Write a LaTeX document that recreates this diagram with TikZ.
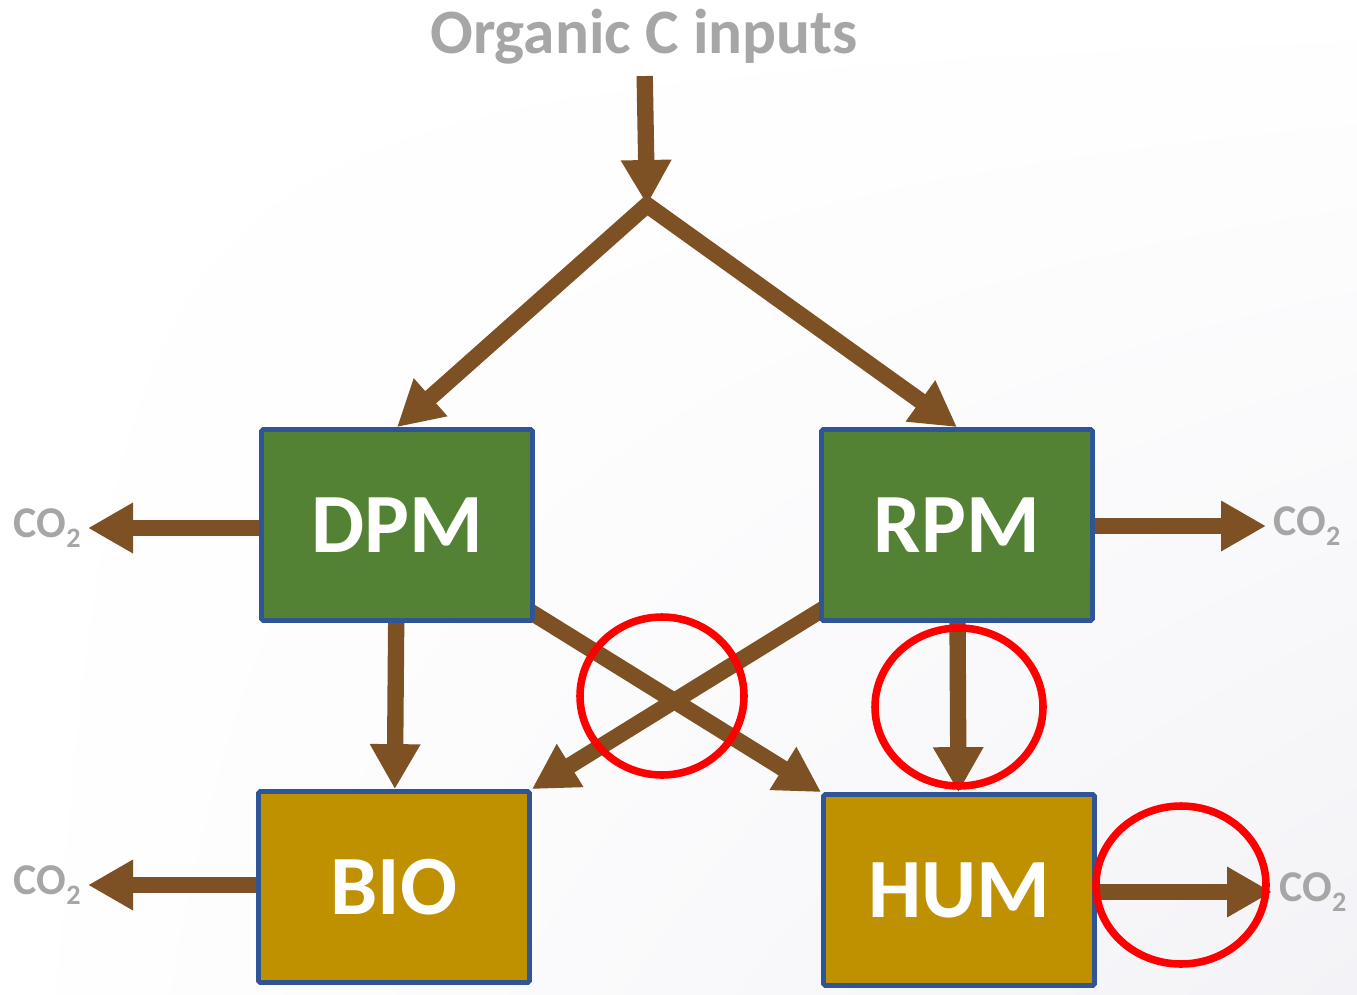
\documentclass[tikz,border=0pt]{standalone}
\usepackage{fontspec}
\setmainfont{Carlito}
\usetikzlibrary{arrows.meta,shadings}

\definecolor{soilbrown}{RGB}{125,81,35}
\definecolor{poolgreen}{RGB}{84,130,53}
\definecolor{poolgold}{RGB}{191,144,0}
\definecolor{poolborder}{RGB}{47,85,151}
\definecolor{labelgray}{RGB}{166,166,166}
\definecolor{pagegrey}{RGB}{243,243,247}

\newcommand{\cotwo}{CO\raisebox{-5.5pt}{\fontsize{16}{16}\selectfont 2}}

\pgfdeclarelayer{paper}
\pgfdeclarelayer{flows}
\pgfsetlayers{paper,flows,main}

\begin{document}
\begin{tikzpicture}[x=0.2mm,y=-0.2mm]
                \begin{pgfonlayer}{paper}
                    \shade[upper left=white,upper right=white,lower left=white,lower right=pagegrey]
                        (0,0) rectangle (1357,994);
                \end{pgfonlayer}
                \useasboundingbox (0,0) rectangle (1357,994);

                \begin{scope}[every node/.style={rectangle,rounded corners=1pt,draw=poolborder,line width=2.7pt,
                            minimum width=5.42cm,minimum height=3.82cm,text=white,
                            font=\bfseries\fontsize{48}{48}\selectfont}]
                    \node[fill=poolgreen] (DPM) at (397,525) {DPM};
                    \node[fill=poolgreen] (RPM) at (957,525) {RPM};
                    \node[fill=poolgold] (BIO) at (394,887) {BIO};
                    \node[fill=poolgold] (HUM) at (959,890) {HUM};
                \end{scope}

                \begin{scope}[every node/.style={text=labelgray,inner sep=4pt,font=\bfseries\fontsize{25}{25}\selectfont}]
                    \node[anchor=east] (co2dpm) at (88,528) {\cotwo};
                    \node[anchor=west] (co2rpm) at (1266,526) {\cotwo};
                    \node[anchor=east] (co2bio) at (88,885) {\cotwo};
                    \node[anchor=west] (co2hum) at (1272,892) {\cotwo};
                \end{scope}

                \node[text=labelgray,font=\bfseries\fontsize{36}{36}\selectfont] (inputs) at (644,37) {Organic C inputs};
                \coordinate (split) at (647,205);

                \begin{pgfonlayer}{flows}
                \begin{scope}[every edge/.style={draw=soilbrown,line width=9.3pt,
                            -{Triangle[length=0.9cm,width=0.95cm]}}]
                    \path (inputs) edge[shorten <=3pt] (split);
                    \draw[soilbrown,line width=9.3pt,line join=miter,
                          {Triangle[length=0.9cm,width=0.95cm]}-{Triangle[length=0.9cm,width=0.95cm]}]
                          (DPM.north) -- (split) -- (RPM.north);
                    \path (DPM.west |- co2dpm.east) edge (co2dpm.east);
                    \path (RPM.east |- co2rpm.west) edge (co2rpm.west);
                    \path (BIO.west |- co2bio.east) edge (co2bio.east);
                    \path (HUM.east |- co2hum.west) edge (co2hum.west);
                    \path (DPM) edge (BIO);
                    \path ([shift={(-30,-27)}]DPM.south east) edge (HUM.north west);
                    \path ([shift={(30,-30)}]RPM.south west) edge (BIO.north east);
                    \path (RPM) edge (HUM);
                \end{scope}
                \end{pgfonlayer}

                \begin{scope}[red,line width=4.3pt]
                    \draw (662,696) ellipse [x radius=1.64cm,y radius=1.58cm];
                    \draw (959,707) ellipse [x radius=1.68cm,y radius=1.58cm];
                    \draw (1181,885) ellipse [x radius=1.7cm,y radius=1.58cm];
                \end{scope}
            \end{tikzpicture}
\end{document}
